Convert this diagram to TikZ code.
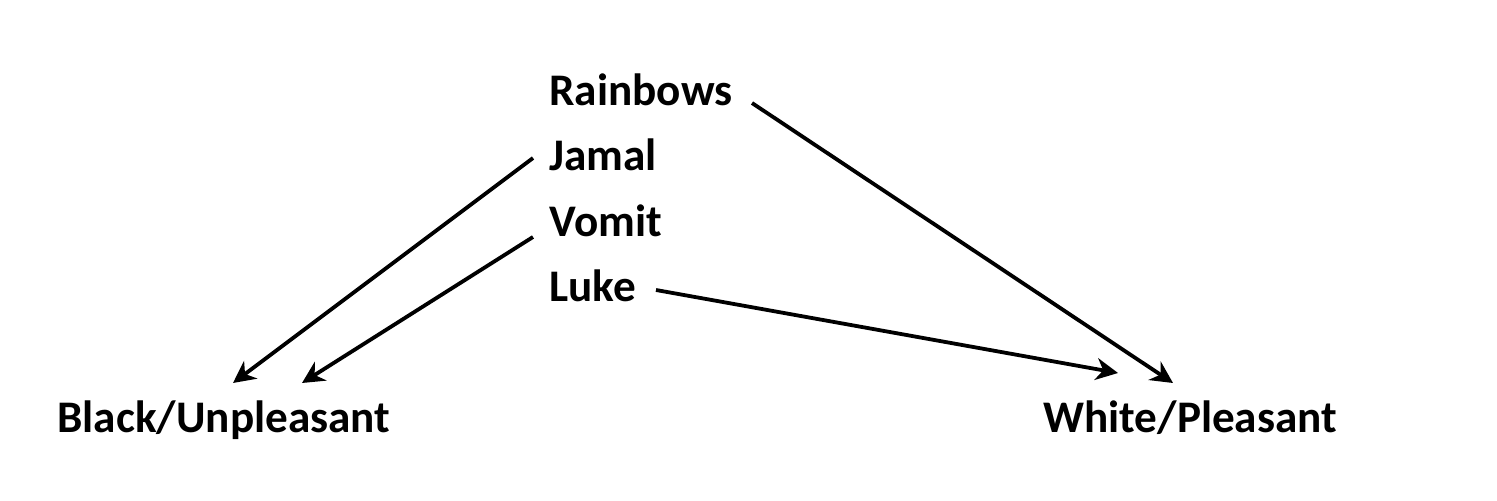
\documentclass[tikz,border=0pt]{standalone}
\usepackage{fontspec}
\setmainfont{Carlito}
\usetikzlibrary{arrows.meta}
\begin{document}
\begin{tikzpicture}[x=0.5pt,y=-0.5pt,
  lbl/.style={anchor=base west,inner sep=0pt,font=\fontsize{22.6pt}{27pt}\selectfont\bfseries},
  conn/.style={line width=1.9pt,-{Stealth[length=11pt,width=11pt,inset=3.5pt]}}]
\useasboundingbox (0,0) rectangle (1497,501);
\node[lbl] (rain) at (549,106) {Rainbows};
\node[lbl] (jamal) at (549,171) {Jamal};
\node[lbl] (vomit) at (549,237) {Vomit};
\node[lbl] (luke) at (549,302) {Luke};
\node[lbl] (black) at (57,433) {Black/Unpleasant};
\node[lbl] (white) at (1043,433) {White/Pleasant};
\coordinate (rs) at (752,103);
\coordinate (js) at (533,158);
\coordinate (vs) at (533,237);
\coordinate (ls) at (656,290);
\coordinate (bj) at (233,383);
\coordinate (bv) at (302,383);
\coordinate (wr) at (1173,383);
\coordinate (wl) at (1118,373);
\draw[conn] (js) -- (bj);
\draw[conn] (vs) -- (bv);
\draw[conn] (rs) -- (wr);
\draw[conn] (ls) -- (wl);
\end{tikzpicture}
\end{document}
